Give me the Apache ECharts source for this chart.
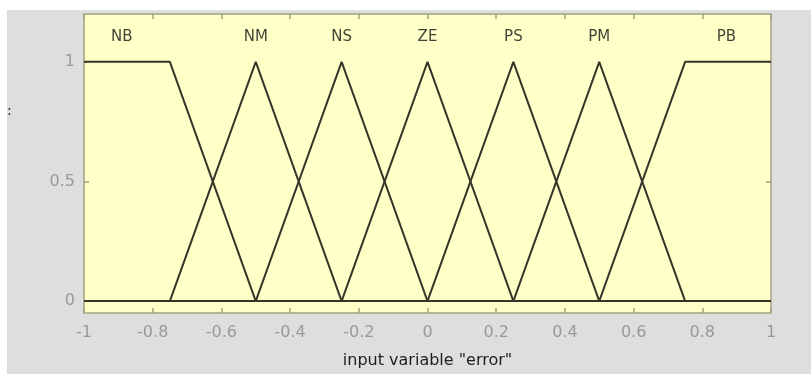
<!DOCTYPE html>
<html>
<head>
<meta charset="utf-8">
<title>Membership functions: error</title>
<script src="https://cdn.jsdelivr.net/npm/echarts@6/dist/echarts.min.js"></script>
<style>
  html, body { margin: 0; padding: 0; background: #ffffff; }
  #chart { width: 811px; height: 374px; }
</style>
</head>
<body>
<div id="chart"></div>
<script>
// Membership functions of the input variable "error" on [-1, 1]
const mfNames = ['NB', 'NM', 'NS', 'ZE', 'PS', 'PM', 'PB'];
const mfX = [
  [-1, -0.75, -0.5, 1],
  [-1, -0.75, -0.5, -0.25, 1],
  [-1, -0.5, -0.25, 0, 1],
  [-1, -0.25, 0, 0.25, 1],
  [-1, 0, 0.25, 0.5, 1],
  [-1, 0.25, 0.5, 0.75, 1],
  [-1, 0.5, 0.75, 1]
];
const mfY = [
  [1, 1, 0, 0],
  [0, 0, 1, 0, 0],
  [0, 0, 1, 0, 0],
  [0, 0, 1, 0, 0],
  [0, 0, 1, 0, 0],
  [0, 0, 1, 0, 0],
  [0, 0, 1, 1]
];
// Where each name is written above its curve
const labelX = [-0.89, -0.5, -0.25, 0, 0.25, 0.5, 0.87];
const labelY = [1.105, 1.105, 1.105, 1.105, 1.105, 1.105, 1.105];
const xTicks = [-1, -0.8, -0.6, -0.4, -0.2, 0, 0.2, 0.4, 0.6, 0.8, 1];
const yTicks = [0, 0.5, 1];
const xTitle = 'input variable "error"';

const lineColor = '#35352a';
const frameColor = '#a3a382';
const fontFamily = 'DejaVu Sans, Verdana, sans-serif';
const tickLabel = { color: '#999999', fontFamily: fontFamily, fontSize: 16 };

const series = mfNames.map((name, i) => ({
  name: name,
  type: 'line',
  data: mfX[i].map((x, j) => [x, mfY[i][j]]),
  symbol: 'none',
  silent: true,
  lineStyle: { color: lineColor, width: 2 },
  z: 3
}));
series.push({
  type: 'scatter',
  data: labelX.map((x, i) => [x, labelY[i], mfNames[i]]),
  symbolSize: 0,
  silent: true,
  label: {
    show: true,
    position: 'inside',
    formatter: p => p.value[2],
    color: '#111111',
    fontFamily: fontFamily,
    fontSize: 15
  }
});

const tickStyle = { color: frameColor, width: 1.5 };

const chart = echarts.init(document.getElementById('chart'), null, { renderer: 'canvas' });
chart.setOption({
  animation: false,
  backgroundColor: '#ffffff',
  graphic: [
    { type: 'rect', shape: { x: 7, y: 10, width: 804, height: 364 }, style: { fill: '#dedede' }, z: -10, silent: true },
    { type: 'text', left: 7, top: 104, style: { text: ':', fill: '#222', font: '14px DejaVu Sans' }, silent: true }
  ],
  grid: {
    left: 84, right: 40, top: 14, bottom: 60,
    show: true, backgroundColor: '#ffffc8', borderColor: frameColor, borderWidth: 1.5
  },
  xAxis: [
    {
      type: 'value', position: 'bottom', min: -1, max: 1, interval: 0.2,
      axisLine: { show: false, onZero: false },
      axisTick: { show: true, inside: true, length: 5, lineStyle: tickStyle },
      splitLine: { show: false },
      axisLabel: Object.assign({ margin: 12, customValues: xTicks, formatter: v => String(Math.round(v * 10) / 10) }, tickLabel),
      name: xTitle, nameLocation: 'middle', nameGap: 40,
      nameTextStyle: { color: '#1e1e1e', fontFamily: fontFamily, fontSize: 16 }
    },
    {
      type: 'value', position: 'top', min: -1, max: 1, interval: 0.2,
      axisLine: { show: false, onZero: false },
      axisTick: { show: true, inside: true, length: 5, lineStyle: tickStyle },
      splitLine: { show: false },
      axisLabel: { show: false }
    }
  ],
  yAxis: [
    {
      type: 'value', position: 'left', min: -0.05, max: 1.2,
      axisLine: { show: false, onZero: false },
      axisTick: { show: true, inside: true, length: 5, customValues: yTicks, lineStyle: tickStyle },
      splitLine: { show: false },
      axisLabel: Object.assign({ margin: 9, customValues: yTicks, formatter: v => String(v) }, tickLabel)
    },
    {
      type: 'value', position: 'right', min: -0.05, max: 1.2,
      axisLine: { show: false, onZero: false },
      axisTick: { show: true, inside: true, length: 5, customValues: yTicks, lineStyle: tickStyle },
      splitLine: { show: false },
      axisLabel: { show: false }
    }
  ],
  series: series
});
</script>
</body>
</html>
